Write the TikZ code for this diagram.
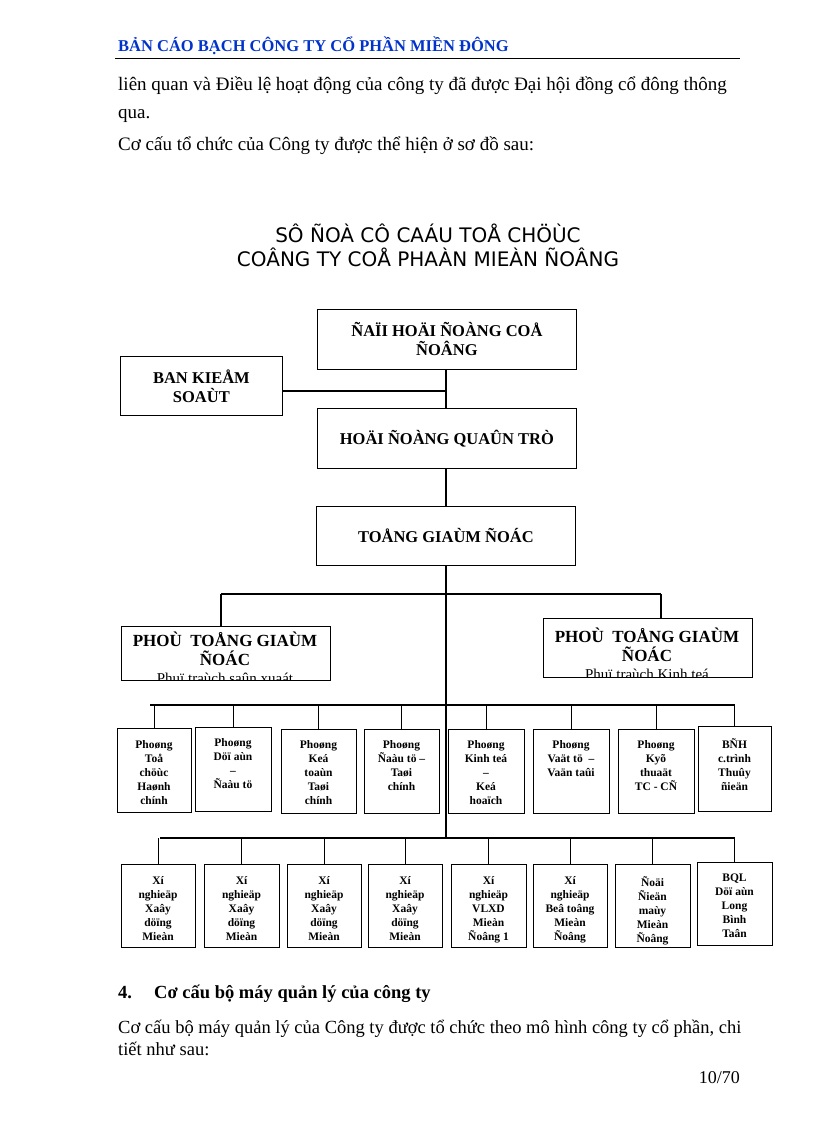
\documentclass[tikz,border=0pt]{standalone}
\usepackage{fontspec}
\setmainfont{Liberation Serif}
\newfontfamily\ttlfont{DejaVu Sans}
\definecolor{hdrblue}{RGB}{0,51,204}
\newcommand\obox[7]{% name x1 y1 x2 y2 texttop text
  \node[boxst,anchor=north west,minimum width=#4-#2,minimum height=#5-#3] (#1) at (#2,#3) {};
  \begin{scope}\clip (#2,#3) rectangle (#4,#5);
  \node[anchor=north,align=center,inner sep=0,font=\bfseries\fontsize{11.5}{14}\selectfont] at ({(#2+#4)/2},#6) {#7};
  \end{scope}}
\begin{document}
\begin{tikzpicture}[x=1pt,y=-1pt,boxst/.style={draw,line width=0.8pt,inner sep=0},ln/.style={line width=1.1pt},
  big/.style={font=\bfseries\fontsize{16.5}{19}\selectfont}]
\useasboundingbox (0,0) rectangle (816,1123);
\fill[white] (0,0) rectangle (816,1123);
% header
\node[anchor=base west,inner sep=0,text=hdrblue,font=\bfseries\fontsize{16.5}{18}\selectfont] (hdr) at (118,52) {BẢN CÁO BẠCH CÔNG TY CỔ PHẦN MIỀN ĐÔNG};
\draw[line width=1pt] (115,59) -- (740,59);
\tikzset{body/.style={anchor=base west,inner sep=0,font=\fontsize{19}{22}\selectfont}}
\node[body] (p1) at (118,91) {liên quan và Điều lệ hoạt động của công ty đã được Đại hội đồng cổ đông thông};
\node[body] (p2) at (118,119) {qua.};
\node[body] (p3) at (118,151) {Cơ cấu tổ chức của Công ty được thể hiện ở sơ đồ sau:};
% title
\node[anchor=base,inner sep=0,font=\ttlfont\fontsize{20}{24}\selectfont] (t1) at (428,243) {SÔ ÑOÀ CÔ CAÁU TOÅ CHÖÙC};
\node[anchor=base,inner sep=0,font=\ttlfont\fontsize{20}{24}\selectfont] (t2) at (428,266) {COÂNG TY COÅ PHAÀN MIEÀN ÑOÂNG};
% top boxes
\node[boxst,anchor=north west,minimum width=259,minimum height=60,align=center,big] (dhcd) at (317,309) {ÑAÏI HOÄI ÑOÀNG COÅ\\ÑOÂNG};
\node[boxst,anchor=north west,minimum width=162,minimum height=59,align=center,big] (bks) at (120,356) {BAN KIEÅM\\SOAÙT};
\node[boxst,anchor=north west,minimum width=259,minimum height=60,big] (hdqt) at (317,408) {HOÄI ÑOÀNG QUAÛN TRÒ};
\node[boxst,anchor=north west,minimum width=259,minimum height=59,big] (tgd) at (316,506) {TOÅNG GIAÙM ÑOÁC};
\coordinate (jb) at (446,391);
\coordinate (bot) at (446,838);
\draw[ln] (dhcd.south -| jb) -- (hdqt.north -| jb);
\draw[ln] (hdqt.south -| jb) -- (tgd.north -| jb);
\draw[ln] (tgd.south -| jb) -- (bot);
\draw[ln] (bks.east |- jb) -- (jb);
% PTGD
\begin{scope}\clip (121,626) rectangle (330,680);
\node[anchor=north,align=center,inner sep=0,font=\bfseries\fontsize{17}{19}\selectfont] at (225,632) {PHOÙ\ \ TOÅNG GIAÙM\\ÑOÁC\\[-1pt]\mdseries\fontsize{15}{17}\selectfont Phuï traùch saûn xuaát};
\end{scope}
\node[boxst,anchor=north west,minimum width=209,minimum height=54] (pl) at (121,626) {};
\begin{scope}\clip (543,618) rectangle (752,677);
\node[anchor=north,align=center,inner sep=0,font=\bfseries\fontsize{17}{19}\selectfont] at (647,628) {PHOÙ\ \ TOÅNG GIAÙM\\ÑOÁC\\[-1pt]\mdseries\fontsize{15}{17}\selectfont Phuï traùch Kinh teá};
\end{scope}
\node[boxst,anchor=north west,minimum width=209,minimum height=59] (pr) at (543,618) {};
\coordinate (hl) at (221,594); \coordinate (hr) at (661,594);
\draw[ln] (hl) -- (hr);
\draw[ln] (hl) -- (hl |- pl.north);
\draw[ln] (hr) -- (hr |- pr.north);
% row 1
\obox{a1}{117}{728}{191}{812}{740}{Phoøng\\Toå\\chöùc\\Haønh\\chính}
\obox{a2}{195}{727}{271}{811}{738}{Phoøng\\Döï aùn\\–\\Ñaàu tö}
\obox{a3}{281}{729}{356}{813}{740}{Phoøng\\Keá\\toaùn\\Taøi\\chính}
\obox{a4}{364}{729}{439}{813}{740}{Phoøng\\Ñaàu tö –\\Taøi\\chính}
\obox{a5}{448}{729}{524}{813}{740}{Phoøng\\Kinh teá\\–\\Keá\\hoaïch}
\obox{a6}{533}{729}{609}{813}{740}{Phoøng\\Vaät tö\ \ –\\Vaän taûi}
\obox{a7}{618}{729}{694}{813}{740}{Phoøng\\Kyõ\\thuaät\\TC - CÑ}
\obox{a8}{698}{726}{771}{811}{738}{BÑH\\c.trình\\Thuûy\\ñieän}
\coordinate (r1l) at (150,705); \coordinate (r1r) at (735,705);
\draw[ln] (r1l) -- (r1r);
\foreach \n in {a1,a2,a3,a4,a5,a6,a7,a8} \draw[ln] (\n.north |- r1l) -- (\n.north);
% row 2
\obox{b1}{121}{864}{195}{947}{876}{Xí\\nghieäp\\Xaây\\döïng\\Mieàn}
\obox{b2}{204}{864}{279}{947}{876}{Xí\\nghieäp\\Xaây\\döïng\\Mieàn}
\obox{b3}{287}{864}{361}{947}{876}{Xí\\nghieäp\\Xaây\\döïng\\Mieàn}
\obox{b4}{368}{864}{442}{947}{876}{Xí\\nghieäp\\Xaây\\döïng\\Mieàn}
\obox{b5}{451}{864}{526}{947}{876}{Xí\\nghieäp\\VLXD\\Mieàn\\Ñoâng 1}
\obox{b6}{533}{864}{607}{947}{876}{Xí\\nghieäp\\Beâ toâng\\Mieàn\\Ñoâng}
\obox{b7}{615}{864}{690}{947}{876}{Ñoäi\\Ñieän\\maùy\\Mieàn\\Ñoâng}
\obox{b8}{697}{862}{772}{945}{874}{BQL\\Döï aùn\\Long\\Bình\\Taân}
\coordinate (r2l) at (160,838); \coordinate (r2r) at (735,838);
\draw[ln] (r2l) -- (r2r);
\foreach \n in {b1,b2,b3,b4,b5,b6,b7,b8} \draw[ln] (\n.north |- r2l) -- (\n.north);
% section 4
\node[anchor=base west,inner sep=0,font=\bfseries\fontsize{18.5}{20}\selectfont] (s4) at (118,998) {4.};
\node[anchor=base west,inner sep=0,font=\bfseries\fontsize{18.5}{20}\selectfont] (s4t) at (154,998) {Cơ cấu bộ máy quản lý của công ty};
\node[body,font=\fontsize{18.5}{22}\selectfont] (q1) at (118,1033) {Cơ cấu bộ máy quản lý của Công ty được tổ chức theo mô hình công ty cổ phần, chi};
\node[body,font=\fontsize{18.5}{22}\selectfont] (q2) at (118,1055) {tiết như sau:};
\node[anchor=base east,inner sep=0,font=\fontsize{18}{20}\selectfont] (pg) at (740,1083) {10/70};
\end{tikzpicture}
\end{document}
